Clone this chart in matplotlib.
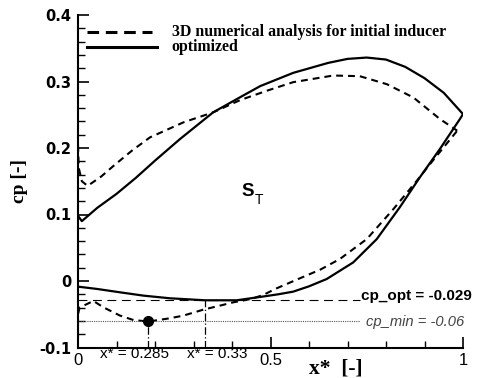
import matplotlib
matplotlib.use("Agg")
import matplotlib.pyplot as plt
from matplotlib.ticker import MultipleLocator, FixedLocator
from matplotlib.lines import Line2D

# Pressure coefficient along the blade (suction + pressure side), x* normalised chord
upper_init_x = [0.0, 0.002, 0.01, 0.025, 0.06, 0.092, 0.14, 0.187, 0.274, 0.351, 0.421,
                0.49, 0.559, 0.663, 0.732, 0.802, 0.871, 0.94, 0.985]
upper_init_cp = [0.205, 0.17, 0.15, 0.143, 0.157, 0.173, 0.196, 0.216, 0.2386, 0.2536, 0.272,
                 0.286, 0.299, 0.309, 0.308, 0.296, 0.276, 0.2436, 0.226]

lower_init_x = [0.0, 0.0, 0.004, 0.04, 0.066, 0.109, 0.144, 0.183, 0.239, 0.274, 0.326,
                0.369, 0.404, 0.45, 0.481, 0.516, 0.568, 0.629, 0.68, 0.75, 0.819, 0.879,
                0.923, 0.985]
lower_init_cp = [-0.085, -0.05, -0.04, -0.030, -0.0396, -0.052, -0.0587, -0.061, -0.056, -0.052,
                 -0.043, -0.037, -0.032, -0.027, -0.021, -0.011, 0.002, 0.017, 0.033, 0.063,
                 0.108, 0.150, 0.182, 0.226]

upper_opt_x = [0.0, 0.01, 0.05, 0.10, 0.15, 0.20, 0.265, 0.351, 0.42, 0.473, 0.559,
               0.65, 0.70, 0.75, 0.80, 0.85, 0.90, 0.95, 1.0]
upper_opt_cp = [0.098, 0.090, 0.110, 0.131, 0.155, 0.181, 0.2135, 0.2536, 0.276, 0.293, 0.313,
                0.328, 0.334, 0.336, 0.333, 0.322, 0.305, 0.283, 0.251]

lower_opt_x = [0.0, 0.05, 0.109, 0.17, 0.239, 0.33, 0.412, 0.473, 0.52, 0.559, 0.60, 0.646,
               0.715, 0.776, 0.836, 0.888, 0.94, 0.992, 1.0]
lower_opt_cp = [-0.0085, -0.012, -0.017, -0.022, -0.026, -0.029, -0.029, -0.024, -0.020, -0.016,
                -0.008, 0.003, 0.028, 0.063, 0.111, 0.156, 0.1985, 0.2436, 0.251]

cp_opt = -0.029
x_opt = 0.33
cp_min = -0.06
x_min_pos = 0.183
x_min_label = "0.285"
ref_end = 0.732

legend_labels = ["3D numerical analysis for initial inducer", "optimized"]

fig = plt.figure(figsize=(4.78, 3.78), dpi=100)
ax = fig.add_axes([78 / 478, 30.5 / 378, 385 / 478, 332.5 / 378])

dash_curve = (3.3, 2.4)
ax.plot(upper_init_x, upper_init_cp, color="black", lw=1.5, dashes=dash_curve)
ax.plot(lower_init_x, lower_init_cp, color="black", lw=1.5, dashes=dash_curve)
ax.plot(upper_opt_x, upper_opt_cp, color="black", lw=1.6)
ax.plot(lower_opt_x, lower_opt_cp, color="black", lw=1.6)

# reference levels
ax.plot([0, ref_end], [cp_opt, cp_opt], color="black", lw=0.8, dashes=(8, 5))
ax.plot([0, ref_end], [cp_min, cp_min], color="#555555", lw=0.8, ls=(0, (1, 1)))
ax.plot([x_opt, x_opt], [-0.1, cp_opt], color="black", lw=0.9, ls=(0, (6, 2, 1, 2)))
ax.plot([x_min_pos, x_min_pos], [-0.1, cp_min], color="black", lw=0.9, ls=(0, (6, 2, 1, 2)))
ax.plot([x_min_pos], [cp_min], "o", color="black", ms=7)

ax.text(ref_end + 0.003, cp_opt + 0.007, "cp_opt = -0.029", fontsize=11, fontweight="bold",
        family="Liberation Sans", va="center", ha="left")
ax.text(ref_end + 0.017, cp_min - 0.001, "cp_min = -0.06", fontsize=10.6, style="italic",
        family="Liberation Sans", color="#444444", va="center", ha="left")

ax.text(0.148, -0.1098, "x* = " + x_min_label, fontsize=11, family="Liberation Sans",
        ha="center", va="center", clip_on=False)
ax.text(0.361, -0.1098, "x* = 0.33", fontsize=11, family="Liberation Sans",
        ha="center", va="center", clip_on=False)

# S_T label
ax.text(0.425, 0.135, "S", fontsize=13.5, fontweight="bold", family="Liberation Sans",
        ha="left", va="center")
ax.text(0.458, 0.122, "T", fontsize=10, family="Liberation Sans", ha="left", va="center")

# legend drawn by hand
tr = ax.transAxes
ax.add_line(Line2D([0.0226, 0.191], [0.95, 0.95], transform=tr, color="black", lw=2.2,
                   dashes=(3.8, 2.2)))
ax.add_line(Line2D([0.0226, 0.204], [0.905, 0.905], transform=tr, color="black", lw=2.2))
for yy, lab in zip([0.95, 0.905], legend_labels):
    ax.text(0.243, yy, lab, transform=tr, fontsize=11.4, fontweight="bold",
            family="Liberation Serif", va="center", ha="left")

ax.set_xlim(0, 1)
ax.set_ylim(-0.1, 0.4)
ax.spines["top"].set_visible(False)
ax.spines["right"].set_visible(False)
for s in ("left", "bottom"):
    ax.spines[s].set_linewidth(1.5)

ax.xaxis.set_major_locator(FixedLocator([0, 0.5, 1]))
ax.xaxis.set_minor_locator(MultipleLocator(0.1))
ax.yaxis.set_major_locator(MultipleLocator(0.1))
ax.yaxis.set_minor_locator(MultipleLocator(0.02))
ax.tick_params(axis="both", which="major", direction="in", length=8, width=1.2)
ax.tick_params(axis="both", which="minor", direction="in", length=5, width=1.0)
ax.tick_params(axis="x", pad=4)
ax.tick_params(axis="y", pad=5)
ax.set_xticklabels(["0", "0.5", "1"])
for t in ax.get_xticklabels():
    t.set_fontfamily("Liberation Sans")
    t.set_fontsize(12)
ax.set_yticks([-0.1, 0, 0.1, 0.2, 0.3, 0.4])
ax.set_yticklabels(["-0.1", "0", "0.1", "0.2", "0.3", "0.4"])
for t in ax.get_yticklabels():
    t.set_fontweight("bold")
    t.set_fontsize(10.5)

ax.set_ylabel("cp [-]", fontsize=14, fontweight="bold", family="Liberation Serif")
ax.yaxis.set_label_coords(-0.13, 0.5)
ax.set_xlabel("x*  [-]", fontsize=15.5, fontweight="bold", family="Liberation Serif")
ax.xaxis.set_label_coords(0.67, -0.062)
ax.xaxis.label.set_va("center")

fig.savefig("out.png", dpi=100)
